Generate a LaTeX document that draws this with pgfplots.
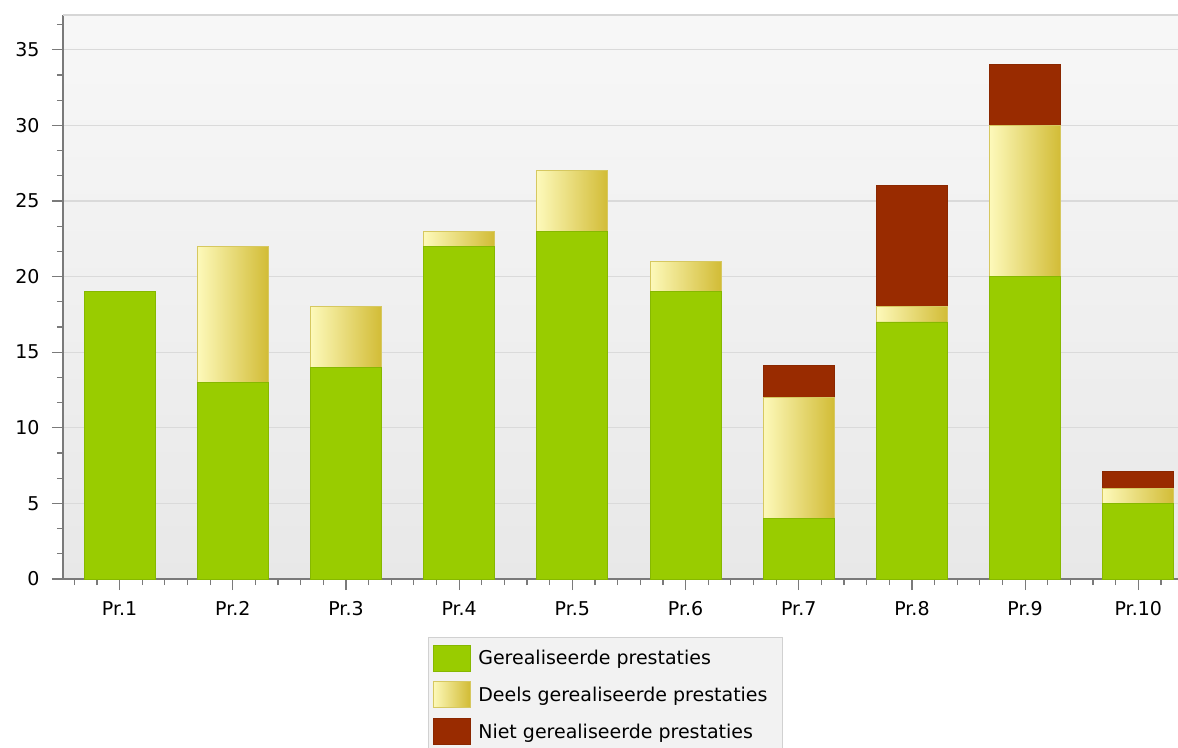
\documentclass[border=0pt]{standalone}
\usepackage{pgfplots}
\pgfplotsset{compat=1.18}
\usepackage{fontspec}
\setmainfont{DejaVu Sans}
\definecolor{gGreen}{HTML}{99CC00}
\definecolor{gGreenD}{HTML}{86B800}
\definecolor{yLeft}{HTML}{FDF9BA}
\definecolor{yRight}{HTML}{D2BC36}
\definecolor{yEdge}{HTML}{D6C860}
\definecolor{rRed}{HTML}{992B00}
\definecolor{rRedD}{HTML}{8A2700}
\definecolor{gridc}{HTML}{DADADA}
\definecolor{axc}{HTML}{7A7A7A}
\begin{document}
\begin{tikzpicture}[font=\fontsize{19}{23}\selectfont]
\path[use as bounding box] (0,0) rectangle (1178pt,747pt);
\begin{axis}[
  at={(63pt,168pt)}, anchor=south west,
  scale only axis, width=1115pt, height=564pt,
  ybar, bar shift=0pt, bar width=71pt,
  xmin=0.5, xmax=10.35, ymin=0, ymax=37.3,
  xtick={1,2,3,4,5,6,7,8,9,10},
  xticklabels={Pr.1,Pr.2,Pr.3,Pr.4,Pr.5,Pr.6,Pr.7,Pr.8,Pr.9,Pr.10},
  minor xtick={0.6,0.8,1.2,1.4,1.6,1.8,2.2,2.4,2.6,2.8,3.2,3.4,3.6,3.8,4.2,4.4,4.6,4.8,5.2,5.4,5.6,5.8,6.2,6.4,6.6,6.8,7.2,7.4,7.6,7.8,8.2,8.4,8.6,8.8,9.2,9.4,9.6,9.8,10.2},
  ytick={0,5,10,15,20,25,30,35},
  minor ytick={1.6667,3.3333,6.6667,8.3333,11.6667,13.3333,16.6667,18.3333,21.6667,23.3333,26.6667,28.3333,31.6667,33.3333,36.6667},
  axis lines*=left, tick align=outside,
  major tick length=11pt, minor tick length=6pt,
  tick style={draw=axc, line width=1.2pt},
  axis line style={draw=axc, line width=1.3pt},
  ymajorgrids, grid style={draw=gridc, line width=1.2pt},
  axis background/.style={shade, top color=white!97!black, bottom color=white!91!black},
  /pgf/number format/assume math mode=true,
  tick label style={font=\fontsize{19}{23}\selectfont, text=black},
  xticklabel style={yshift=-8pt},
  yticklabel style={xshift=-9pt},
  reverse legend,
  legend style={at={(0.3274,-0.103)}, anchor=north west, fill=white!95!black, draw=white!82!black, line width=1pt,
    font=\fontsize{19}{23}\selectfont, inner xsep=4pt, inner ysep=7pt, row sep=10pt,
    nodes={inner sep=2pt, anchor=west},
    /tikz/every odd column/.append style={column sep=6pt}},
  legend cell align=left,
  legend image code/.code={\draw[#1, line width=0.8pt] (0pt,-13pt) rectangle (37pt,13pt);},
  after end axis/.code={\draw[draw=white!84!black, line width=1.5pt] (rel axis cs:0,1) -- (rel axis cs:1,1);},
]
% cumulative totals, drawn back to front
\addplot[fill=rRed, draw=rRedD, line width=0.8pt] coordinates {(7,14.1) (8,26) (9,34) (10,7.1)};
\addlegendentry{Niet gerealiseerde prestaties\hspace*{9pt}}
\addplot[left color=yLeft, right color=yRight, draw=yEdge, line width=0.8pt] coordinates {(2,22)};
\addlegendentry{Deels gerealiseerde prestaties\hspace*{9pt}}
\addplot[forget plot, left color=yLeft, right color=yRight, draw=yEdge, line width=0.8pt] coordinates {(3,18)};
\addplot[forget plot, left color=yLeft, right color=yRight, draw=yEdge, line width=0.8pt] coordinates {(4,23)};
\addplot[forget plot, left color=yLeft, right color=yRight, draw=yEdge, line width=0.8pt] coordinates {(5,27)};
\addplot[forget plot, left color=yLeft, right color=yRight, draw=yEdge, line width=0.8pt] coordinates {(6,21)};
\addplot[forget plot, left color=yLeft, right color=yRight, draw=yEdge, line width=0.8pt] coordinates {(7,12)};
\addplot[forget plot, left color=yLeft, right color=yRight, draw=yEdge, line width=0.8pt] coordinates {(8,18)};
\addplot[forget plot, left color=yLeft, right color=yRight, draw=yEdge, line width=0.8pt] coordinates {(9,30)};
\addplot[forget plot, left color=yLeft, right color=yRight, draw=yEdge, line width=0.8pt] coordinates {(10,6)};
\addplot[fill=gGreen, draw=gGreenD, line width=0.8pt] coordinates {(1,19) (2,13) (3,14) (4,22) (5,23) (6,19) (7,4) (8,17) (9,20) (10,5)};
\addlegendentry{Gerealiseerde prestaties\hspace*{9pt}}
\end{axis}
\end{tikzpicture}
\end{document}
